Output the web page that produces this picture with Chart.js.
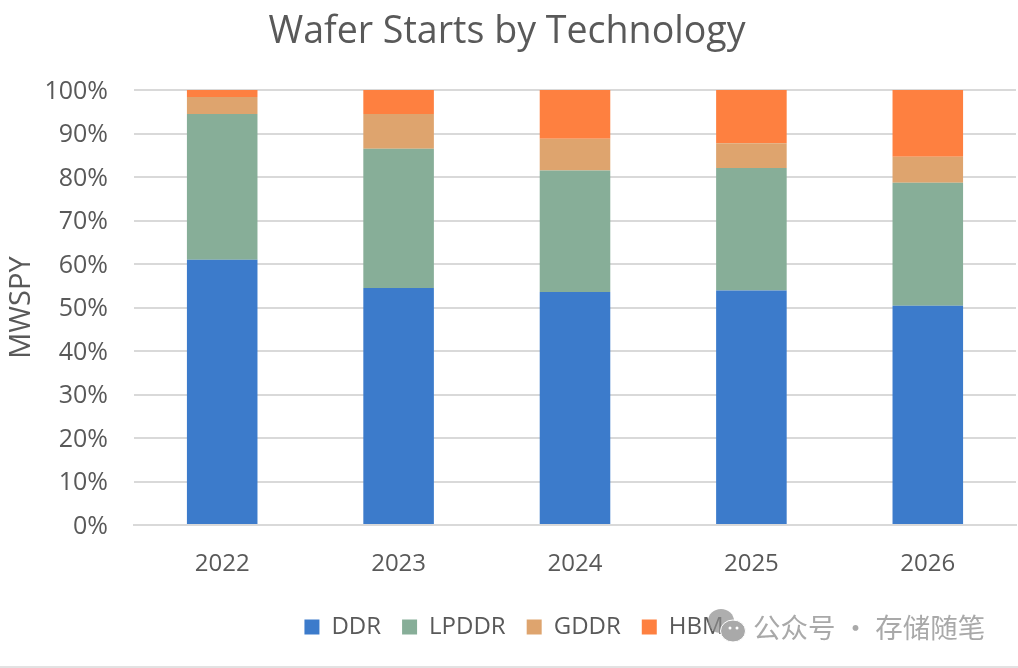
<!doctype html>
<html lang="en">
<head>
<meta charset="utf-8">
<title>Wafer Starts by Technology</title>
<style>
  * { margin: 0; padding: 0; }
  html, body { width: 1018px; height: 668px; background: #fff; overflow: hidden; }
  #wrap { position: absolute; left: 0; top: 0; width: 1018px; height: 668px; }
  #icon { position: absolute; left: 706px; top: 608px; }
  #mark { position: absolute; left: 753px; top: 606px; font: 27.5px "Noto Sans CJK SC", sans-serif; color: #a9a9a9; white-space: nowrap; }
  #rule { position: absolute; left: 0; top: 666px; width: 1018px; height: 2px; background: #e2e2e2; }
</style>
</head>
<body>
<div id="wrap"><canvas id="myChart" width="1018" height="668"></canvas></div>
<svg id="icon" width="42" height="38" viewBox="0 0 42 38">
  <ellipse cx="15" cy="13" rx="13" ry="12" fill="#8c8c8c" fill-opacity="0.7"/>
  <ellipse cx="27" cy="23" rx="12.5" ry="11" fill="#a9a9a9" stroke="#fff" stroke-width="1"/>
  <circle cx="24" cy="20" r="1.5" fill="#fff"/>
  <circle cx="31" cy="20" r="1.5" fill="#fff"/>
</svg>
<div id="mark">公众号 · 存储随笔</div>
<div id="rule"></div>
<script src="https://cdn.jsdelivr.net/npm/chart.js"></script>
<script>
const categories = ['2022', '2023', '2024', '2025', '2026'];
const ddr = [61, 54.5, 53.6, 53.9, 50.4];
const lpddr = [33.5, 32, 27.9, 28.2, 28.3];
const gddr = [3.9, 8, 7.3, 5.7, 6];
const hbm = [1.6, 5.5, 11.2, 12.2, 15.3];
const tickFont = { family: '"Open Sans", sans-serif', size: 24 };

// title and legend are not centred on the canvas in the original
const nudge = {
  id: 'nudge',
  afterLayout: function (chart) {
    chart.legend.left += 4;
    chart.legend.right += 4;
    chart.titleBlock.left -= 3;
    chart.titleBlock.right -= 3;
  }
};

new Chart(document.getElementById('myChart'), {
  type: 'bar',
  plugins: [nudge],
  data: {
    labels: categories,
    datasets: [
      { label: 'DDR', data: ddr, backgroundColor: '#3c7bcb' },
      { label: 'LPDDR', data: lpddr, backgroundColor: '#87ae98' },
      { label: 'GDDR', data: gddr, backgroundColor: '#dea46e' },
      { label: 'HBM', data: hbm, backgroundColor: '#fe8040' }
    ]
  },
  options: {
    responsive: false,
    animation: false,
    devicePixelRatio: 1,
    layout: { padding: { left: 4, right: 2, top: 10, bottom: 19 } },
    datasets: { bar: { categoryPercentage: 0.4, barPercentage: 1 } },
    plugins: {
      title: {
        display: true,
        text: 'Wafer Starts by Technology',
        color: '#595959',
        font: { family: '"Open Sans", sans-serif', size: 37.6, weight: 'normal' },
        padding: { top: 0, bottom: 35 }
      },
      legend: {
        position: 'bottom',
        align: 'center',
        labels: {
          color: '#595959',
          font: tickFont,
          boxWidth: 15,
          boxHeight: 15,
          padding: 21
        }
      },
      tooltip: { enabled: false }
    },
    scales: {
      x: {
        stacked: true,
        afterFit: function (s) { s.height = 69; },
        grid: { display: false },
        border: { color: '#d9d9d9', width: 2 },
        ticks: { color: '#595959', font: tickFont, padding: 17 }
      },
      y: {
        stacked: true,
        min: 0,
        max: 100,
        afterFit: function (s) { s.width = 130; },
        grid: { color: '#d9d9d9', lineWidth: 2, drawTicks: false },
        border: { display: false },
        title: {
          display: true,
          text: 'MWSPY',
          color: '#595959',
          font: { family: '"Open Sans", sans-serif', size: 29 },
          padding: { top: 0, bottom: 8 }
        },
        ticks: {
          stepSize: 10,
          color: '#595959',
          font: { family: '"Open Sans", sans-serif', size: 25 },
          padding: 26,
          labelOffset: 1.5,
          callback: function (v) { return v + '%'; }
        }
      }
    }
  }
});
</script>
</body>
</html>
